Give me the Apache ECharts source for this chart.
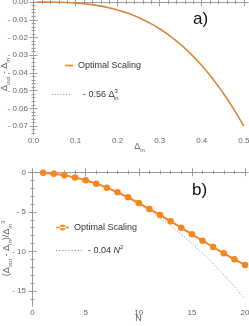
<!DOCTYPE html>
<html><head><meta charset="utf-8">
<script src="https://cdn.jsdelivr.net/npm/echarts@6/dist/echarts.min.js"></script>
<style>html,body{margin:0;padding:0;background:#fff}#c{width:249px;height:326px}</style>
</head><body><div id="c"></div>
<script>
// ---- Panel a data ----
const aOptX = [0.01, 0.025, 0.05, 0.075, 0.1, 0.125, 0.15, 0.175, 0.2, 0.225, 0.25, 0.275, 0.3, 0.325, 0.35, 0.375, 0.4, 0.425, 0.45, 0.475, 0.5];
const aOptY = [0, -0.00001, -0.00007, -0.00024, -0.00056, -0.00109, -0.00189, -0.0030, -0.00448, -0.00638, -0.00875, -0.01165, -0.01512, -0.01922, -0.02401, -0.02953, -0.03584, -0.04299, -0.05103, -0.06002, -0.0700];
const aFitX = [0, 0.025, 0.05, 0.075, 0.1, 0.125, 0.15, 0.175, 0.2, 0.225, 0.25, 0.275, 0.3, 0.325, 0.35, 0.375, 0.4, 0.425, 0.45, 0.475, 0.5];
const aFitY = [0, -0.00001, -0.00007, -0.00024, -0.00056, -0.00109, -0.00189, -0.0030, -0.00448, -0.00638, -0.00875, -0.01165, -0.01512, -0.01922, -0.02401, -0.02953, -0.03584, -0.04299, -0.05103, -0.06002, -0.0700];
const aXTicks = [0, 0.1, 0.2, 0.3, 0.4, 0.5];
const aYTicks = [0, -0.01, -0.02, -0.03, -0.04, -0.05, -0.06, -0.07];

// ---- Panel b data ----
const bN = [1,2,3,4,5,6,7,8,9,10,11,12,13,14,15,16,17,18,19,20];
const bOpt = [-0.04,-0.17,-0.38,-0.67,-1.0,-1.43,-1.94,-2.53,-3.16,-3.88,-4.64,-5.39,-6.19,-7.0,-7.84,-8.64,-9.44,-10.24,-11.0,-11.71];
const bFitN = [0,1,2,3,4,5,6,7,8,9,10,11,12,13,14,15,16,17,18,19,20];
const bFit = [0,-0.04,-0.16,-0.36,-0.64,-1,-1.44,-1.96,-2.56,-3.24,-4,-4.84,-5.76,-6.76,-7.84,-9,-10.24,-11.56,-12.96,-14.44,-16];
const bXTicks = [0, 5, 10, 15, 20];
const bYTicks = [0, -5, -10, -15];

const ORANGE = '#F5851F', BLUE = '#6A8DCC', FRAME = '#9a9a9a', LBL = '#666';
const FONT = 'Liberation Sans';

function minors(lo, hi, step, majors){
  const out=[]; const n=Math.round((hi-lo)/step);
  for(let i=0;i<=n;i++){const v=+(lo+i*step).toFixed(6); if(!majors.some(m=>Math.abs(m-v)<1e-9)) out.push(v);}
  return out;
}
const pairs=(xs,ys)=>xs.map((x,i)=>[x,ys[i]]);

const xAxes=[], yAxes=[];
function addAxes(list, grid, dim, min, max, majors, minorVals, fmt, name, nameGap){
  const isX = dim==='x';
  const posA = isX?'bottom':'left', posB = isX?'top':'right';
  const base = {type:'value', gridIndex:grid, min, max, splitLine:{show:false},
    axisLine:{show:true, lineStyle:{color:FRAME, width:1}}};
  list.push(Object.assign({}, base, {position:posA,
    axisTick:{show:true, inside:true, length:4, customValues:majors, lineStyle:{color:FRAME}},
    axisLabel:{show:true, customValues:majors, formatter:fmt, color:LBL, fontSize:8, fontFamily:FONT, margin:3},
    name:name.text, nameLocation:'middle', nameGap:nameGap, nameMoveOverlap:false,
    nameTextStyle:Object.assign({color:LBL, fontSize:9, fontFamily:FONT}, name.style||{})}));
  list.push(Object.assign({}, base, {position:posB,
    axisTick:{show:true, inside:true, length:4, customValues:majors, lineStyle:{color:FRAME}},
    axisLabel:{show:false}}));
  list.push(Object.assign({}, base, {position:posA, axisLine:{show:false},
    axisTick:{show:true, inside:true, length:2, customValues:minorVals, lineStyle:{color:FRAME}},
    axisLabel:{show:false}}));
  list.push(Object.assign({}, base, {position:posB, axisLine:{show:false},
    axisTick:{show:true, inside:true, length:2, customValues:minorVals, lineStyle:{color:FRAME}},
    axisLabel:{show:false}}));
}
function mkRich(col){
  return {
    m:{fontSize:9, color:col, fontFamily:FONT, lineHeight:13, verticalAlign:'middle'},
    s:{fontSize:6, color:col, fontFamily:FONT, lineHeight:13, verticalAlign:'bottom'},
    p:{fontSize:6, color:col, fontFamily:FONT, lineHeight:13, verticalAlign:'top'},
    i:{fontSize:9, color:col, fontFamily:FONT, lineHeight:13, verticalAlign:'middle', fontStyle:'italic'}
  };
}
const neg = d => v => Math.abs(v)<1e-12 ? (d? (0).toFixed(d) : '0') : '- ' + (-v).toFixed(d);

// grid a
addAxes(xAxes,0,'x',-0.006,0.51,aXTicks,minors(0,0.5,0.02,aXTicks),v=>v.toFixed(1),
  {text:'{m|Δ}{s|in}', style:{rich:mkRich(LBL)}},6);
addAxes(yAxes,0,'y',-0.0745,0.0006,aYTicks,minors(-0.074,0,0.002,aYTicks),neg(2),
  {text:'{m|Δ}{s|out}{m| - Δ}{s|in}', style:{rich:mkRich(LBL), padding:[0,14,0,0]}},20);
// grid b
addAxes(xAxes,1,'x',-0.33,20.28,bXTicks,minors(0,20,1,bXTicks),v=>String(v),
  {text:'N'},8);
addAxes(yAxes,1,'y',-16.9,0.42,bYTicks,minors(-16,0,1,bYTicks),neg(0),
  {text:'{m|(Δ}{s|out}{m| - Δ}{s|in}{m|)/Δ}{s|in}{p|3}', style:{rich:mkRich(LBL), padding:[0,22,0,0]}},16);

// legend icon paths
const dotted = w => 'path://' + Array.from({length:Math.floor(w/3)+1},(_,k)=>`M${k*3},0h1v1h-1z`).join(' ');
const lineDot = 'path://M0,2.2h13v1.6h-13z M3.5,3a3,3 0 1,0 6,0a3,3 0 1,0 -6,0z';

const legText = {fontSize:9, color:'#333', fontFamily:FONT};
const option = {
  animation:false,
  grid:[
    {left:31, right:1, top:1, height:133, containLabel:false, outerBoundsMode:'none'},
    {left:29, right:1, top:169, height:137, containLabel:false, outerBoundsMode:'none'}
  ],
  xAxis:xAxes, yAxis:yAxes,
  legend:[
    {data:[{name:'Optimal Scaling', icon:'rect'}], left:65, top:61, padding:0, itemWidth:8, itemHeight:1.6,
      symbolKeepAspect:false, textStyle:legText},
    {data:[{name:'fitA', icon:dotted(18)}], left:52, top:88, padding:0, itemWidth:18, itemHeight:1,
      symbolKeepAspect:false,
      formatter:()=>'{m|- 0.56 Δ}{p|3}{s|in}',
      textStyle:{padding:[0,0,0,8], rich:Object.assign(mkRich('#333'),{s:{fontSize:6,color:'#333',fontFamily:FONT,lineHeight:13,verticalAlign:'bottom',padding:[0,0,0,-4]}})}},
    {data:[{name:'Optimal Scaling ', icon:lineDot}], left:56, top:223, padding:0, itemWidth:13, itemHeight:6,
      symbolKeepAspect:false,
      formatter:()=>'Optimal Scaling', textStyle:legText},
    {data:[{name:'fitB', icon:dotted(26)}], left:56, top:244, padding:0, itemWidth:26, itemHeight:1,
      symbolKeepAspect:false,
      formatter:()=>'{m|- 0.04 }{i|N}{p|2}',
      textStyle:{padding:[0,0,0,1], rich:mkRich('#333')}}
  ],
  graphic:[
    {type:'text', left:193, top:11, style:{text:'a)', fontSize:17, fill:'#111', fontFamily:FONT}},
    {type:'text', left:192, top:182, style:{text:'b)', fontSize:17, fill:'#111', fontFamily:FONT}}
  ],
  series:[
    {name:'Optimal Scaling', type:'line', xAxisIndex:0, yAxisIndex:0, data:pairs(aOptX,aOptY),
      symbol:'none', smooth:true, lineStyle:{color:ORANGE, width:1.6}, itemStyle:{color:ORANGE}},
    {name:'fitA', type:'line', xAxisIndex:0, yAxisIndex:0, data:pairs(aFitX,aFitY),
      symbol:'none', smooth:true, lineStyle:{color:BLUE, width:1, type:[1,2]}, itemStyle:{color:BLUE}},
    {name:'Optimal Scaling ', type:'line', xAxisIndex:4, yAxisIndex:4, data:pairs(bN,bOpt),
      symbol:'circle', symbolSize:6.5, lineStyle:{color:ORANGE, width:2}, itemStyle:{color:ORANGE}},
    {name:'fitB', type:'line', xAxisIndex:4, yAxisIndex:4, data:pairs(bFitN,bFit),
      symbol:'none', smooth:true, lineStyle:{color:BLUE, width:1, type:[1,2]}, itemStyle:{color:BLUE}, z:1}
  ]
};
echarts.init(document.getElementById('c')).setOption(option);
</script></body></html>
